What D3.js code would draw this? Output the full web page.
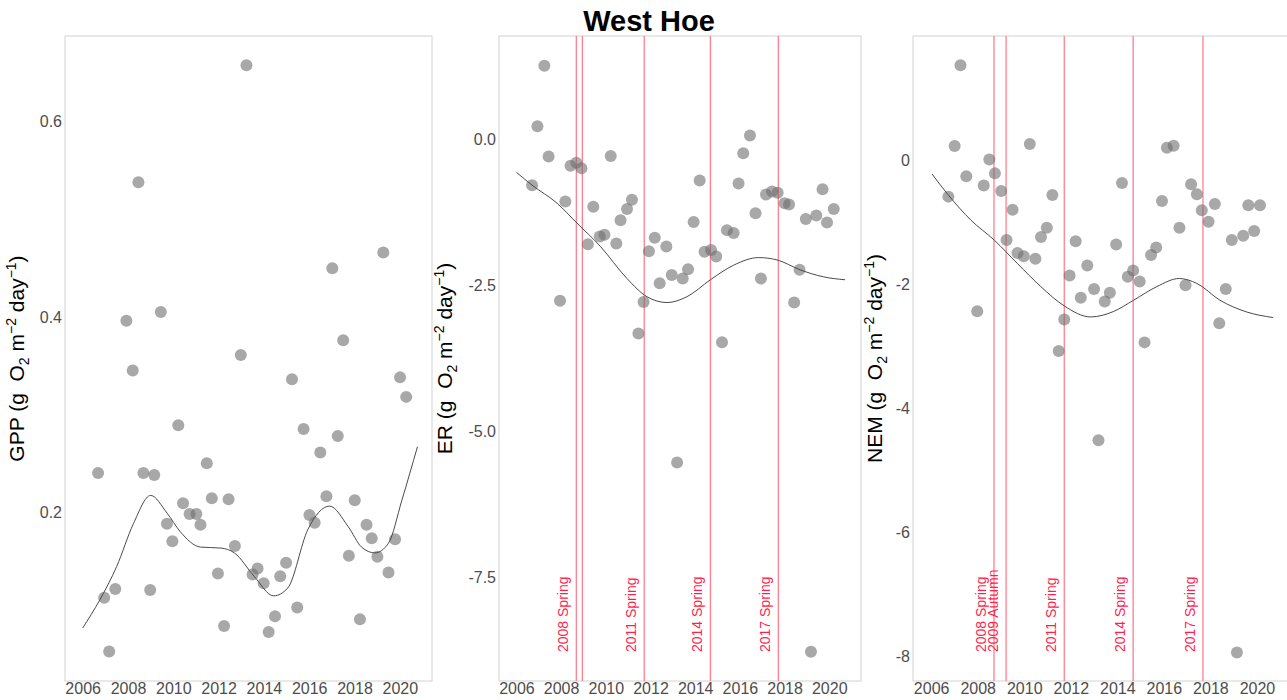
<!DOCTYPE html>
<html>
<head>
<meta charset="utf-8">
<script src="https://cdn.jsdelivr.net/npm/d3@7"></script>
<style>
  body { margin: 0; background: #fff; }
  svg { font-family: "Liberation Sans", Arial, sans-serif; }
</style>
</head>
<body>
<svg id="chart" width="1287" height="700"></svg>
<script>
// x axis shared by the three panels
const yearDomain = [2005.22, 2021.42];
const yearTicks = [2006, 2008, 2010, 2012, 2014, 2016, 2018, 2020];

// GPP panel
const gppPoints = [
  [2013.23, 0.658], [2008.46, 0.538], [2019.27, 0.466], [2017.02, 0.450], [2009.45, 0.405],
  [2007.93, 0.396], [2017.5, 0.376], [2012.98, 0.361], [2008.21, 0.345], [2015.24, 0.336],
  [2020.01, 0.338], [2020.28, 0.318], [2010.22, 0.289], [2015.75, 0.285], [2017.26, 0.278],
  [2016.49, 0.261], [2011.48, 0.250], [2006.68, 0.240], [2008.68, 0.240], [2009.16, 0.238],
  [2016.76, 0.216], [2011.70, 0.214], [2012.44, 0.213], [2018.01, 0.212], [2010.43, 0.209],
  [2010.72, 0.198], [2011.02, 0.198], [2016.01, 0.197], [2016.24, 0.189], [2009.72, 0.188],
  [2011.2, 0.187], [2018.53, 0.187], [2018.76, 0.173], [2019.79, 0.172], [2009.96, 0.170],
  [2012.72, 0.165], [2017.75, 0.155], [2019.01, 0.154], [2014.98, 0.148], [2013.72, 0.142],
  [2013.5, 0.136], [2011.97, 0.137], [2019.50, 0.138], [2014.72, 0.134], [2013.99, 0.127],
  [2008.98, 0.120], [2007.44, 0.121], [2006.95, 0.112], [2015.47, 0.102], [2014.49, 0.093],
  [2018.24, 0.090], [2012.24, 0.083], [2014.21, 0.077], [2007.17, 0.057]
];
const gppSmooth = [
  [2006.0, 0.081], [2006.76, 0.110], [2007.5, 0.144], [2008.24, 0.188], [2009.0, 0.217],
  [2009.72, 0.199], [2010.3, 0.180], [2011.2, 0.164], [2012.1, 0.163], [2012.7, 0.158],
  [2013.57, 0.134], [2014.43, 0.114], [2015.05, 0.122], [2015.94, 0.182], [2016.9, 0.206],
  [2017.72, 0.185], [2018.31, 0.164], [2018.9, 0.158], [2019.5, 0.168], [2020.09, 0.212],
  [2020.78, 0.267]
];
const gppTicks = [0.2, 0.4, 0.6];
const gppTickLabels = ["0.2", "0.4", "0.6"];

// ER panel
const erPoints = [
  [2007.25, 1.255], [2006.94, 0.217], [2007.44, -0.30], [2010.22, -0.29], [2008.42, -0.457],
  [2008.68, -0.405], [2008.91, -0.50], [2006.70, -0.79], [2016.45, 0.06], [2016.15, -0.245],
  [2014.2, -0.71], [2015.94, -0.76], [2008.19, -1.07], [2011.17, -1.04], [2010.95, -1.20],
  [2009.44, -1.16], [2017.17, -0.95], [2017.44, -0.90], [2017.69, -0.92], [2018.0, -1.10],
  [2018.2, -1.12], [2019.7, -0.86], [2020.2, -1.20], [2018.95, -1.37], [2019.42, -1.31],
  [2019.9, -1.43], [2016.7, -1.27], [2010.66, -1.39], [2013.93, -1.42], [2015.42, -1.56],
  [2015.72, -1.61], [2009.73, -1.67], [2009.94, -1.64], [2010.47, -1.79], [2009.2, -1.80],
  [2012.19, -1.69], [2011.93, -1.92], [2012.71, -1.84], [2014.42, -1.93], [2014.71, -1.90],
  [2014.94, -2.01], [2018.67, -2.24], [2013.68, -2.23], [2013.44, -2.39], [2012.95, -2.33],
  [2012.41, -2.47], [2016.94, -2.39], [2011.69, -2.79], [2007.95, -2.77], [2018.43, -2.80],
  [2011.46, -3.33], [2015.2, -3.48], [2013.19, -5.54], [2019.18, -8.78]
];
const erSmooth = [
  [2006.0, -0.57], [2006.7, -0.79], [2007.82, -1.10], [2008.71, -1.44], [2009.76, -1.84],
  [2010.95, -2.39], [2011.84, -2.70], [2012.74, -2.80], [2013.63, -2.70], [2014.68, -2.41],
  [2015.72, -2.16], [2016.84, -2.03], [2017.66, -2.07], [2018.7, -2.24], [2019.74, -2.36],
  [2020.71, -2.41]
];
const erTicks = [-7.5, -5, -2.5, 0];
const erTickLabels = ["-7.5", "-5.0", "-2.5", "0.0"];
const erEventYears = [2008.68, 2008.95, 2011.72, 2014.68, 2017.72];
const erEventLabels = ["2008 Spring", "", "2011 Spring", "2014 Spring", "2017 Spring"];

// NEM panel
const nemPoints = [
  [2007.26, 1.53], [2007.01, 0.226], [2010.24, 0.258], [2016.13, 0.20], [2016.42, 0.23],
  [2008.5, 0.01], [2008.74, -0.215], [2007.51, -0.26], [2008.26, -0.41], [2009.01, -0.50],
  [2014.2, -0.37], [2017.17, -0.39], [2017.42, -0.55], [2006.74, -0.59], [2011.21, -0.565],
  [2015.92, -0.66], [2018.19, -0.71], [2019.63, -0.73], [2020.13, -0.73], [2017.63, -0.81],
  [2009.5, -0.80], [2017.92, -0.995], [2016.67, -1.09], [2010.97, -1.09], [2010.72, -1.24],
  [2019.88, -1.145], [2019.41, -1.22], [2018.92, -1.29], [2009.24, -1.29], [2012.21, -1.31],
  [2013.95, -1.36], [2015.67, -1.41], [2015.45, -1.53], [2009.71, -1.50], [2009.98, -1.55],
  [2010.48, -1.59], [2012.71, -1.70], [2011.95, -1.86], [2014.68, -1.78], [2014.45, -1.88],
  [2014.96, -1.96], [2016.93, -2.02], [2018.66, -2.08], [2013.0, -2.08], [2013.68, -2.14],
  [2012.43, -2.22], [2013.46, -2.28], [2007.98, -2.44], [2011.72, -2.57], [2018.38, -2.63],
  [2015.17, -2.94], [2011.48, -3.08], [2013.19, -4.52], [2019.14, -7.94]
];
const nemSmooth = [
  [2006.04, -0.226], [2006.74, -0.565], [2007.71, -0.97], [2008.71, -1.29], [2009.71, -1.67],
  [2010.71, -2.04], [2011.71, -2.35], [2012.85, -2.53], [2013.85, -2.44], [2014.7, -2.26],
  [2015.7, -2.04], [2016.66, -1.91], [2017.42, -1.99], [2018.41, -2.26], [2019.56, -2.45],
  [2020.7, -2.54]
];
const nemTicks = [-8, -6, -4, -2, 0];
const nemTickLabels = ["-8", "-6", "-4", "-2", "0"];
const nemEventYears = [2008.7, 2009.22, 2011.72, 2014.68, 2017.68];
const nemEventLabels = ["2008 Spring", "2009 Autumn", "2011 Spring", "2014 Spring", "2017 Spring"];

const svg = d3.select("#chart");
const plotTop = 36, plotBottom = 681;

svg.append("text")
  .attr("x", 649)
  .attr("y", 31)
  .attr("text-anchor", "middle")
  .attr("font-size", 29)
  .attr("font-weight", "bold")
  .attr("fill", "#000")
  .text("West Hoe");

function drawPanel(p) {
  const x = d3.scaleLinear().domain(yearDomain).range([p.left, p.right]);
  const y = d3.scaleLinear().domain(p.yDomain).range([plotBottom, plotTop]);
  const g = svg.append("g");

  g.append("rect")
    .attr("x", p.left).attr("y", plotTop)
    .attr("width", p.right - p.left).attr("height", plotBottom - plotTop)
    .attr("fill", "none")
    .attr("stroke", "#d2d2d2")
    .attr("stroke-width", 1);

  // disturbance events
  if (p.events) {
    g.selectAll(".ev-line")
      .data(p.events)
      .enter().append("line")
      .attr("x1", d => x(d)).attr("x2", d => x(d))
      .attr("y1", plotTop).attr("y2", plotBottom)
      .attr("stroke", "#ff7f8f")
      .attr("stroke-width", 1.3);

    g.selectAll(".ev-label")
      .data(p.events.map((d, i) => [d, p.eventLabels[i]]).filter(d => d[1] !== ""))
      .enter().append("text")
      .attr("transform", d => "translate(" + (x(d[0]) - 8) + "," + (plotBottom - 29) + ") rotate(-90)")
      .attr("font-size", 14)
      .attr("fill", "#ff1f4f")
      .text(d => d[1]);
  }

  g.selectAll(".pt")
    .data(p.points)
    .enter().append("circle")
    .attr("cx", d => x(d[0]))
    .attr("cy", d => y(d[1]))
    .attr("r", 6)
    .attr("fill", "#6e6e6e")
    .attr("fill-opacity", 0.6);

  g.append("path")
    .datum(p.smooth)
    .attr("fill", "none")
    .attr("stroke", "#4a4a4a")
    .attr("stroke-width", 1)
    .attr("d", d3.line().x(d => x(d[0])).y(d => y(d[1])).curve(d3.curveMonotoneX));

  const xAxis = g.append("g")
    .attr("transform", "translate(0," + plotBottom + ")")
    .call(d3.axisBottom(x).tickValues(yearTicks).tickFormat(d3.format("d")).tickSize(0).tickPadding(2));
  xAxis.select(".domain").remove();
  xAxis.selectAll("text").attr("font-size", 16).attr("fill", "#4d4d4d");
  xAxis.attr("font-family", null);

  const yAxis = g.append("g")
    .attr("transform", "translate(" + p.left + ",0)")
    .call(d3.axisLeft(y).tickValues(p.ticks).tickFormat((d, i) => p.tickLabels[i]).tickSize(0).tickPadding(3));
  yAxis.select(".domain").remove();
  yAxis.selectAll("text").attr("font-size", 16).attr("fill", "#4d4d4d");
  yAxis.attr("font-family", null);

  // axis title with sub/superscripts
  const title = g.append("text")
    .attr("transform", "translate(" + p.titleX + "," + ((plotTop + plotBottom) / 2) + ") rotate(-90)")
    .attr("text-anchor", "middle")
    .attr("dy", "0.35em")
    .attr("font-size", 21)
    .attr("fill", "#000")
    .style("white-space", "pre");
  const parts = [
    [p.name + " (g  O", 0, 21],
    ["2", 5, 14],
    [" m", 0, 21],
    ["\u22122", -8, 14],
    [" day", 0, 21],
    ["\u22121", -8, 14],
    [")", 0, 21]
  ];
  let shift = 0;
  parts.forEach(part => {
    title.append("tspan")
      .attr("dy", part[1] - shift)
      .attr("font-size", part[2])
      .text(part[0]);
    shift = part[1];
  });
}

drawPanel({
  name: "GPP", left: 65, right: 432, titleX: 24,
  yDomain: [0.0267, 0.688], ticks: gppTicks, tickLabels: gppTickLabels,
  points: gppPoints, smooth: gppSmooth
});
drawPanel({
  name: "ER", left: 499, right: 861, titleX: 452,
  yDomain: [-9.28, 1.764], ticks: erTicks, tickLabels: erTickLabels,
  points: erPoints, smooth: erSmooth,
  events: erEventYears, eventLabels: erEventLabels
});
drawPanel({
  name: "NEM", left: 913, right: 1290, titleX: 882,
  yDomain: [-8.40, 2.0], ticks: nemTicks, tickLabels: nemTickLabels,
  points: nemPoints, smooth: nemSmooth,
  events: nemEventYears, eventLabels: nemEventLabels
});
</script>
</body>
</html>
